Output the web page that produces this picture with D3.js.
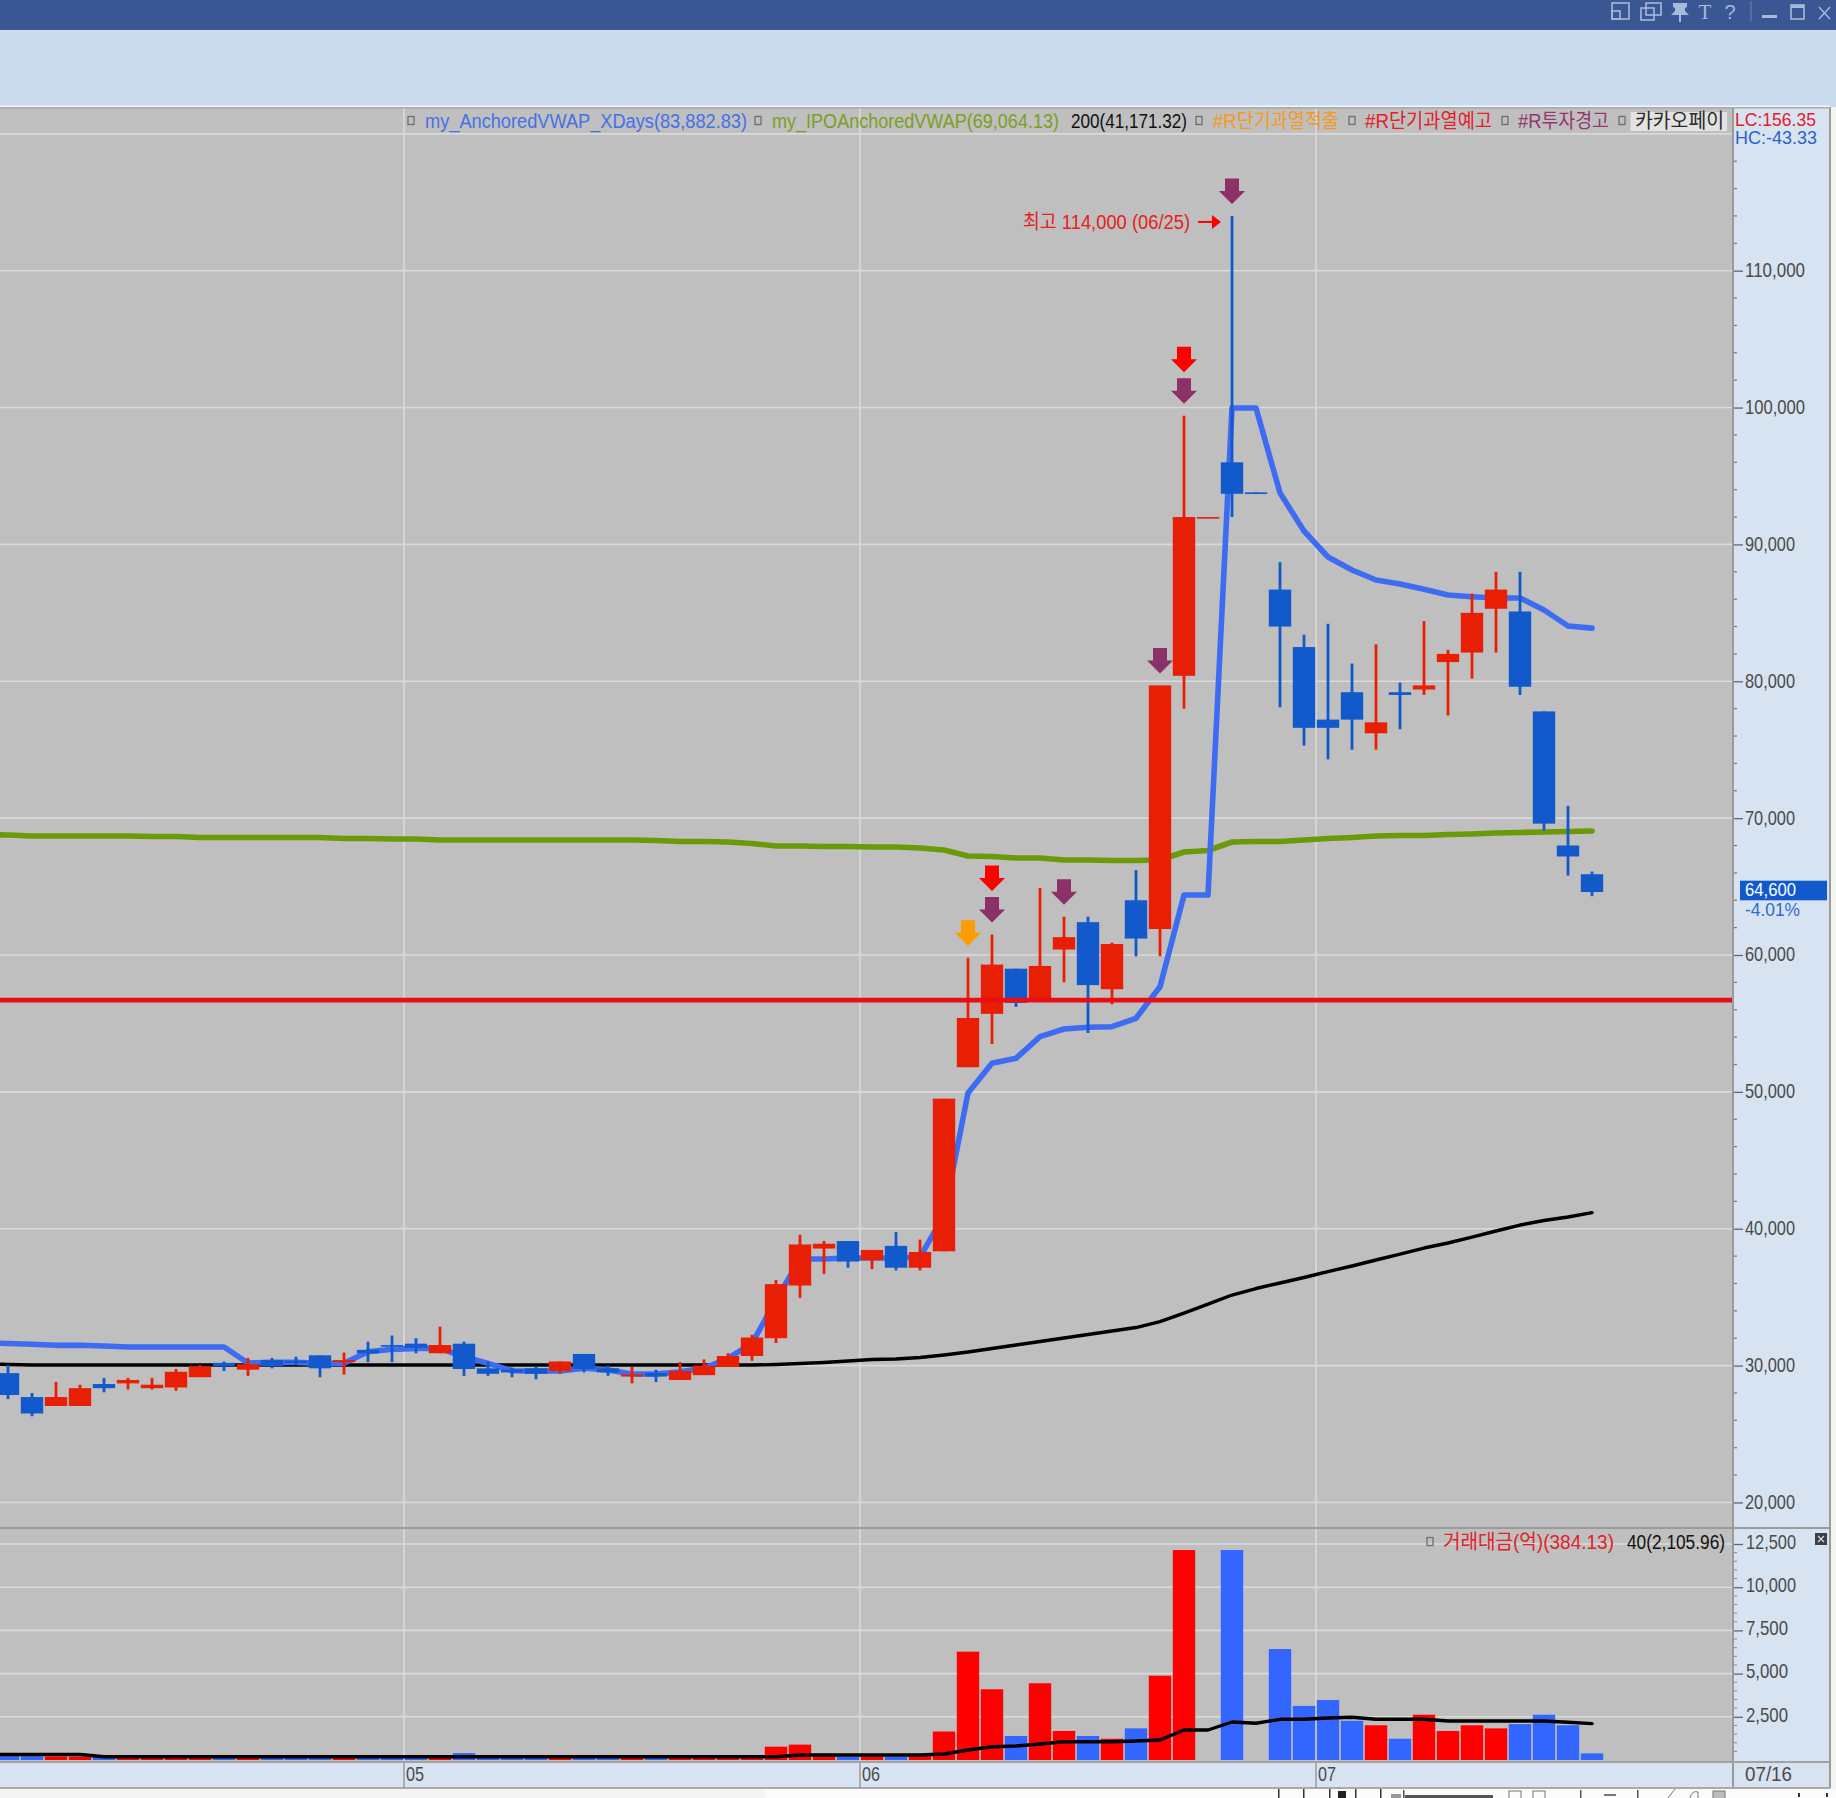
<!DOCTYPE html>
<html><head><meta charset="utf-8">
<style>html,body{margin:0;padding:0;background:#f4f4f4;overflow:hidden}svg{display:block}text{font-family:"Liberation Sans","Noto Sans CJK KR",sans-serif}</style>
<script src="https://cdnjs.cloudflare.com/ajax/libs/d3/7.8.5/d3.min.js"></script>
</head><body><svg id="c" width="1836" height="1798"></svg>
<script>
// ---- data ----
const opens=[29450,27700,27050,27050,28650,28700,28350,28400,29150,30200,29700,30400,30350,30750,30250,31150,31500,31600,30900,31600,29800,29700,29800,29600,30850,29800,29200,29450,28950,29300,29900,30700,32000,35850,38550,39100,37700,38750,37150,38350,51800,55700,59000,56600,60400,62400,57500,64000,61900,80400,92000,96000,93800,86700,82500,77200,79200,76200,79200,79400,81400,82100,85300,85100,77800,68000,65900];
const highs=[30050,28000,28800,28600,29100,29100,29100,29750,30050,30300,30550,30550,30650,30750,30950,31750,32200,32000,32850,31750,30300,29850,29900,30300,30850,30000,29900,29700,30250,30450,30900,32250,36250,39550,39100,39100,38450,39750,39200,49500,59800,61500,59000,64900,62800,62800,60900,66200,79700,99400,92000,114000,93800,88700,83400,84200,81300,82700,79900,84400,82300,86400,88000,88000,77800,70900,66100];
const lows=[27550,26300,27050,27050,28050,28250,28250,28150,29150,29600,29250,29800,30050,29150,29350,30250,30250,30900,30900,29250,29250,29150,29000,29400,29500,29250,28700,28800,28950,29300,29900,30350,31650,34950,36700,37150,37050,36950,36950,38350,51800,53500,56200,56600,58000,54300,56400,59900,59900,78000,92000,92000,93700,78100,75300,74300,75000,75000,76500,79000,77500,80200,82100,79000,69100,65800,64300];
const closes=[27850,26500,27700,28350,28350,28950,28600,29550,29950,29950,30100,29950,30200,29800,30400,30900,31450,31300,31500,29750,29400,29500,29400,30300,29750,29500,29350,29200,29600,30000,30700,32050,35950,38850,38900,37600,38450,37150,38300,49500,55400,59300,56500,59200,61300,57800,60800,61200,79700,92000,92000,93700,93700,84000,76600,76600,77200,77000,79000,79700,82000,85000,86700,79600,69600,67200,64600];
const volumes=[230,220,210,200,190,220,200,190,210,200,180,200,190,210,200,190,200,190,210,400,200,190,200,210,190,200,210,190,200,210,220,230,770,890,220,200,210,200,280,1650,6270,4090,1390,4440,1680,1390,1230,1830,4880,12150,0,12150,0,6420,3130,3470,2270,2010,1230,2620,1680,2010,1830,2080,2620,2010,384];
// line series start one session before the first visible candle
const vwapX=[31685,31612,31554,31480,31480,31430,31355,31355,31355,31355,31355,30186,30237,30237,30164,30164,31012,31187,31260,31260,30646,30164,29623,29602,29602,29800,29674,29382,29382,29550,29800,30530,31626,34789,37785,37785,37858,37858,37858,37931,41000,49916,52087,52452,54030,54593,54717,54761,55375,57684,64384,64384,99970,99970,93758,90982,89081,88132,87401,87109,86722,86305,86181,86086,86086,85209,84040,83883];
const vwapIPO=[68805,68768,68695,68695,68695,68695,68695,68659,68659,68586,68586,68586,68586,68586,68586,68513,68513,68476,68476,68403,68403,68403,68403,68403,68403,68403,68403,68403,68366,68293,68293,68257,68147,67965,67965,67928,67928,67892,67892,67818,67672,67234,67197,67088,67088,66942,66942,66905,66905,66942,67526,67636,68257,68293,68293,68403,68513,68586,68695,68732,68732,68805,68841,68914,68951,68987,69024,69064];
const ma200=[30149,30076,30040,30040,30040,30040,30040,30040,30040,30040,30040,30040,30040,30040,30040,30040,30040,30040,30040,30040,30040,30040,30040,30040,30040,30040,30040,30040,30040,30040,30040,30040,30040,30076,30149,30222,30332,30441,30478,30587,30770,30989,31245,31501,31757,32012,32268,32524,32780,33218,33839,34497,35155,35630,36032,36434,36872,37274,37713,38151,38589,38955,39393,39832,40270,40599,40855,41171];
const volMA40=[320,320,320,320,320,190,190,190,190,190,190,190,190,190,190,190,190,190,190,190,190,190,190,190,190,190,190,190,190,190,190,190,190,190,290,290,290,290,290,290,350,579,770,810,926,1059,1059,1059,1100,1157,1736,1736,2199,2124,2355,2355,2431,2471,2355,2355,2355,2257,2257,2257,2257,2257,2182,2106];
const resistance=56700;
const priceTicks=[20000,30000,40000,50000,60000,70000,80000,90000,100000,110000];
const volumeTicks=[2500,5000,7500,10000,12500];
const monthLabels=["05","06","07"];
const monthStarts=[17,36,55];
const overheatExtract=[40];
const overheatNotice=[41,49];
const investWarning=[41,44,48,49,51];
const legendTop=["my_AnchoredVWAP_XDays(83,882.83)","my_IPOAnchoredVWAP(69,064.13)","200(41,171.32)","#R단기과열적출","#R단기과열예고","#R투자경고","카카오페이"];
const legendVolume=["거래대금(억)(384.13)","40(2,105.96)"];
const sideStats=["LC:156.35","HC:-43.33"];
const lastPrice="64,600", lastChange="-4.01%", peakNote="최고 114,000 (06/25)", lastDate="07/16";

// ---- layout ----
const W=1836,H=1798,plotR=1733,axisR=1830,plotT=107,mainB=1528,volB=1762,stripB=1788;
const svg=d3.select("#c");
const x=d3.scaleLinear().domain([0,66]).range([8,1592]);
const y=d3.scaleLinear().domain([20000,120000]).range([1502.44,133.84]);
const yv=d3.scaleLinear().domain([0,12500]).range([1760,1544]);
const UP="#e81e05",DOWN="#1259cc",VUP="#ff0000",VDOWN="#3366ff",GRID="#dadada",BG="#bfbfbf";
const rect=(g,a,b,w,h,f)=>g.append("rect").attr("x",a).attr("y",b).attr("width",w).attr("height",h).attr("fill",f);
const label=(g,a,b,yc,s,f,fs=21)=>g.append("text").attr("x",a).attr("y",yc).attr("dy","0.36em").attr("textLength",b-a).attr("lengthAdjust","spacingAndGlyphs").attr("font-size",fs).attr("fill",f).text(s);

// chrome
rect(svg,0,0,W,H,"#f4f4f4");
rect(svg,0,0,W,30,"#3a5794");
rect(svg,0,30,W,77,"#cbdbee");
rect(svg,0,105.5,axisR,1.5,"#f2f5f9");
rect(svg,0,plotT,plotR,volB-plotT,BG);
rect(svg,plotR,plotT,axisR-plotR,stripB-plotT,"#d7e3f1");
rect(svg,0,volB,plotR,stripB-volB,"#d7e3f1");

// clip regions
const defs=svg.append("defs");
defs.append("clipPath").attr("id","cm").append("rect").attr("x",0).attr("y",plotT).attr("width",plotR).attr("height",mainB-plotT);
defs.append("clipPath").attr("id","cv").append("rect").attr("x",0).attr("y",mainB).attr("width",plotR).attr("height",volB-mainB);

// grid
const main=svg.append("g").attr("clip-path","url(#cm)");
const vol=svg.append("g").attr("clip-path","url(#cv)");
main.selectAll("line.g").data(d3.range(20000,120001,10000)).join("line").attr("x1",0).attr("x2",plotR).attr("y1",d=>y(d)).attr("y2",d=>y(d)).attr("stroke",GRID).attr("stroke-width",1.6);
vol.selectAll("line.g").data(volumeTicks).join("line").attr("x1",0).attr("x2",plotR).attr("y1",d=>yv(d)).attr("y2",d=>yv(d)).attr("stroke",GRID).attr("stroke-width",1.6);
[main,vol].forEach(g=>g.selectAll("line.m").data(monthStarts).join("line").attr("class","m").attr("x1",d=>x(d)-12).attr("x2",d=>x(d)-12).attr("y1",plotT).attr("y2",volB).attr("stroke",GRID).attr("stroke-width",1.6));

// lines
const lineMain=d3.line().x((d,i)=>x(i-1)).y(d=>y(d));
const addLine=(g,data,gen,color,w)=>g.append("path").datum(data).attr("d",gen).attr("fill","none").attr("stroke",color).attr("stroke-width",w).attr("stroke-linejoin","round").attr("stroke-linecap","round");
addLine(main,ma200,lineMain,"#000",3.4);
addLine(main,vwapIPO,lineMain,"#6b9a08",5.6);
addLine(main,vwapX,lineMain,"#3d6cf2",5.6);

// candles
const idx=d3.range(opens.length);
const isUp=i=>closes[i]>=opens[i];
main.selectAll("line.w").data(idx).join("line").attr("x1",i=>x(i)).attr("x2",i=>x(i)).attr("y1",i=>y(highs[i])).attr("y2",i=>y(lows[i])).attr("stroke",i=>isUp(i)?UP:DOWN).attr("stroke-width",2.8);
main.selectAll("rect.b").data(idx).join("rect").attr("x",i=>x(i)-11.2).attr("width",22.4)
  .attr("y",i=>y(Math.max(opens[i],closes[i])))
  .attr("height",i=>Math.max(1.6,Math.abs(y(opens[i])-y(closes[i]))))
  .attr("fill",i=>isUp(i)?UP:DOWN);

// support line
main.append("line").attr("x1",0).attr("x2",plotR).attr("y1",y(resistance)).attr("y2",y(resistance)).attr("stroke","#ea0d12").attr("stroke-width",4.6);

// signal arrows
const arrowPath=(cx,tip)=>`M${cx-7},${tip-25.5}H${cx+7}V${tip-13}H${cx+13}L${cx},${tip}L${cx-13},${tip-13}H${cx-7}Z`;
const drawArrows=(list,color,stack)=>main.selectAll(null).data(list).join("path").attr("d",i=>arrowPath(x(i),y(highs[i])-12-stack)).attr("fill",color);
drawArrows(overheatExtract,"#ff9c00",0);
drawArrows(investWarning,"#8c3068",0);
drawArrows(overheatNotice,"#ff0000",31.5);

// peak annotation
const px=x(51),py=y(114000)+6;
label(svg,px-209,px-42,py,peakNote,"#e8201c",20);
svg.append("path").attr("d",`M${px-34},${py}H${px-18}`).attr("stroke","#f00").attr("stroke-width",2);
svg.append("path").attr("d",`M${px-20},${py-7}L${px-11},${py}L${px-20},${py+7}Z`).attr("fill","#f00");

// volume
vol.selectAll("rect.v").data(idx).join("rect").attr("x",i=>x(i)-11.2).attr("width",22.4).attr("y",i=>yv(volumes[i])).attr("height",i=>yv(0)-yv(volumes[i])).attr("fill",i=>isUp(i)?VUP:VDOWN);
addLine(vol,volMA40,d3.line().x((d,i)=>x(i-1)).y(d=>yv(d)),"#000",3.4);

// legends
rect(svg,1630.5,112,96.5,19,"#e2e2e2");
const legendColors=["#4471e8","#7a9f1e","#111","#f49a1f","#e4202a","#93396f","#2a2a2a"];
const legendSpans=[[425,747],[772,1059],[1071,1187],[1213,1339],[1365,1492],[1518,1609],[1635,1724]];
const legendBullets=[411,758,null,1199,1352,1505,1622];
const bullet=(cx,cy)=>svg.append("rect").attr("x",cx-3).attr("y",cy-4).attr("width",6).attr("height",8).attr("fill","none").attr("stroke","#6f6f6f").attr("stroke-width",1.3);
legendTop.forEach((s,i)=>{label(svg,legendSpans[i][0],legendSpans[i][1],120.5,s,legendColors[i],20);if(legendBullets[i])bullet(legendBullets[i],120.5);});
bullet(1430,1541.5);
label(svg,1443,1614,1541.7,legendVolume[0],"#e4202a",20);
label(svg,1627,1725,1541.7,legendVolume[1],"#111",20);
rect(svg,1815,1533,12,12,"#3a3f4a");
svg.append("path").attr("d","M1818,1536l6,6m0,-6l-6,6").attr("stroke","#ddd").attr("stroke-width",1.2);
label(svg,1735,1816,119.5,sideStats[0],"#e4202a",18);
label(svg,1735,1817,138,sideStats[1],"#2b62c8",18);

// axes
const fmt=d3.format(",");
const axisMain=svg.append("g").attr("transform",`translate(${plotR},0)`).call(d3.axisRight(y).tickValues(priceTicks).tickSize(10).tickFormat(fmt));
const axisVol=svg.append("g").attr("transform",`translate(${plotR},0)`).call(d3.axisRight(yv).tickValues(volumeTicks).tickSize(10).tickFormat(fmt));
[axisMain,axisVol].forEach(a=>{a.select(".domain").remove();a.selectAll("line").attr("stroke","#666").attr("stroke-width",1.3);});
axisMain.selectAll("text").attr("x",12).attr("dy","0.28em").attr("font-size",21).attr("fill","#4a4a4a").attr("textLength",d=>d>=100000?60:50).attr("lengthAdjust","spacingAndGlyphs").attr("font-family",null);
axisVol.selectAll("text").attr("x",13).attr("dy","0.2em").attr("font-size",21).attr("fill","#4a4a4a").attr("textLength",d=>d>=10000?50:42).attr("lengthAdjust","spacingAndGlyphs").attr("font-family",null);
svg.selectAll("line.mt").data(d3.range(22000,118001,2000).filter(d=>d%10000)).join("line").attr("x1",plotR).attr("x2",plotR+4).attr("y1",d=>y(d)).attr("y2",d=>y(d)).attr("stroke","#777").attr("stroke-width",1.2);
svg.selectAll("line.mv").data(d3.range(500,12500,500).filter(d=>d%2500)).join("line").attr("x1",plotR).attr("x2",plotR+4).attr("y1",d=>yv(d)).attr("y2",d=>yv(d)).attr("stroke","#888").attr("stroke-width",1);

// current price tag
rect(svg,1740,880.7,87,19.6,DOWN);
label(svg,1745,1796,890,lastPrice,"#fff",18);
label(svg,1745,1800,909.5,lastChange,"#2e6bd0",18);

// frames
rect(svg,plotR-1,plotT,2,stripB-plotT,"#9a9a9a");
rect(svg,axisR-1,plotT,2,stripB-plotT,"#9a9a9a");
rect(svg,0,plotT,axisR,1.5,"#a9a9a9");
rect(svg,0,mainB-1,axisR,2,"#9a9a9a");
rect(svg,0,volB-1,axisR,2,"#a2a2a2");
rect(svg,0,stripB-1,axisR,2,"#a9a9a9");

// x strip labels
monthLabels.forEach((s,i)=>{const e=x(monthStarts[i])-12;rect(svg,e-.75,volB,1.5,stripB-volB,"#9a9a9a");label(svg,e+2,e+20,1773.5,s,"#4a4a4a",21);});
label(svg,1745,1792,1773.5,lastDate,"#4a4a4a",21);

// title-bar icons
const ic="#a6bad9",tb=svg.append("g");
const box=(a,b,w,h)=>tb.append("rect").attr("x",a).attr("y",b).attr("width",w).attr("height",h).attr("fill","none").attr("stroke",ic).attr("stroke-width",1.6);
box(1612,3,17,16);box(1612,11,8,8);
box(1646,3,15,12);box(1641,8,13,12);
tb.append("path").attr("d","M1673,3H1687V7L1685,8V11L1689,15H1681V22H1679V15H1671L1675,11V8L1673,7Z").attr("fill",ic);
tb.append("text").attr("x",1705).attr("y",19).attr("text-anchor","middle").attr("font-size",21).attr("fill",ic).style("font-family","Liberation Serif").text("T");
tb.append("text").attr("x",1730).attr("y",19).attr("text-anchor","middle").attr("font-size",20).attr("fill",ic).text("?");
rect(tb,1750.5,1,1,20,"#6f88b5");
rect(tb,1762,15,15,3,ic);
box(1791,5,13,14);rect(tb,1791,5,13,3,ic);
tb.append("path").attr("d","M1819,7L1830,19M1830,7L1819,19").attr("stroke",ic).attr("stroke-width",1.5);

// bottom toolbar
const bt=svg.append("g");
rect(bt,765,1789,1071,9,"#fbfbfb");
[1278,1303,1329,1355,1380].forEach(a=>rect(bt,a,1789,1.5,9,"#333"));
rect(bt,1338,1791,8,7,"#222");
rect(bt,1391,1794,10,4,"#999");rect(bt,1403,1790,1.5,8,"#555");rect(bt,1405,1795,88,3,"#555");
[1509,1533].forEach(a=>bt.append("rect").attr("x",a).attr("y",1791).attr("width",12).attr("height",8).attr("fill","none").attr("stroke","#777"));
rect(bt,1580,1790,1.5,8,"#555");rect(bt,1604,1794,12,2,"#777");rect(bt,1637,1790,1.5,8,"#555");
bt.append("path").attr("d","M1668,1798L1675,1789M1690,1798q2,-8 8,-6v6").attr("fill","none").attr("stroke","#777");
bt.append("rect").attr("x",1713).attr("y",1791).attr("width",12).attr("height",8).attr("fill","#bbb").attr("stroke","#777");
rect(bt,1798,1793,2,4,"#333");rect(bt,1826,1793,2,4,"#333");
</script></body></html>
